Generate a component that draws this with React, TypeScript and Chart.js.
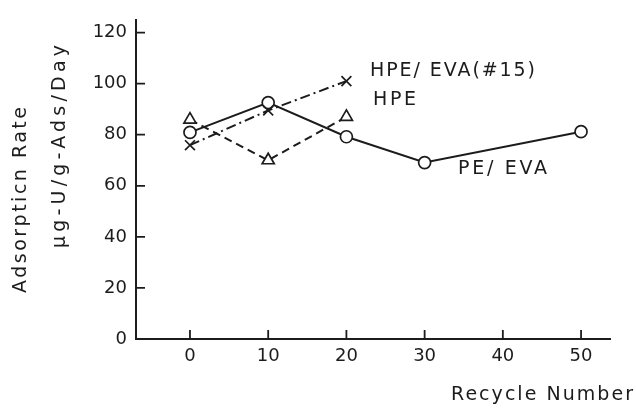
import { useEffect, useRef } from 'react';
import { Chart, registerables } from 'chart.js';

Chart.register(...registerables);

// Axis tick values
const xTicks = [0, 10, 20, 30, 40, 50];
const yTicks = [0, 20, 40, 60, 80, 100, 120];

// PE/EVA adsorbent (circles, solid line)
const peEvaCycles = [0, 10, 20, 30, 50];
const peEvaRate = [80.9, 92.6, 79.2, 69.1, 81.2];

// HPE adsorbent (triangles, dashed line)
const hpeCycles = [0, 10, 20];
const hpeRate = [85.9, 70.0, 87.0];

// HPE/EVA (#15) adsorbent (crosses, dash-dot line)
const hpeEvaCycles = [0, 10, 20];
const hpeEvaRate = [75.9, 89.5, 101.0];

const FONT = "'DejaVu Sans', sans-serif";
const INK = '#1c1c1c';

const toPoints = (xs: number[], ys: number[]) => xs.map((x, i) => ({ x, y: ys[i] }));

// Draw text stretched to a given width by spreading the letters.
function spreadText(ctx: CanvasRenderingContext2D, text: string, x: number, y: number, width: number) {
  (ctx as any).letterSpacing = '0px';
  const w = ctx.measureText(text).width;
  const n = Array.from(text).length;
  const gap = n > 1 ? (width - w) / (n - 1) : 0;
  (ctx as any).letterSpacing = `${gap}px`;
  ctx.fillText(text, x, y);
  (ctx as any).letterSpacing = '0px';
}

const decorations = {
  id: 'decorations',
  afterDraw(chart: Chart) {
    const ctx = chart.ctx;
    const xs = chart.scales.x;
    const ys = chart.scales.y;
    const area = chart.chartArea;
    ctx.save();

    // inward tick marks
    ctx.strokeStyle = INK;
    ctx.lineWidth = 1.8;
    ctx.beginPath();
    yTicks.forEach((v) => {
      const py = ys.getPixelForValue(v);
      ctx.moveTo(area.left, py);
      ctx.lineTo(area.left + 9, py);
    });
    xTicks.forEach((v) => {
      const px = xs.getPixelForValue(v);
      ctx.moveTo(px, area.bottom);
      ctx.lineTo(px, area.bottom - 9);
    });
    ctx.stroke();

    ctx.fillStyle = INK;
    ctx.textAlign = 'left';
    ctx.textBaseline = 'middle';

    // series labels
    ctx.font = `19px ${FONT}`;
    spreadText(ctx, 'HPE/ EVA(#15)', 370, 71, 165);
    spreadText(ctx, 'HPE', 373, 100.5, 43);
    spreadText(ctx, 'PE/ EVA', 458, 169.5, 89);

    // x axis title
    ctx.font = `19px ${FONT}`;
    spreadText(ctx, 'Recycle Number', 451, 395, 182);

    // y axis title, two rotated lines
    ctx.font = `19px ${FONT}`;
    ctx.save();
    ctx.translate(21, 200);
    ctx.rotate(-Math.PI / 2);
    spreadText(ctx, 'Adsorpticn Rate', -93, 0, 186);
    ctx.restore();

    ctx.save();
    ctx.translate(60, 146.5);
    ctx.rotate(-Math.PI / 2);
    spreadText(ctx, 'μg-U/g-Ads/Day', -101.5, 0, 203);
    ctx.restore();

    ctx.restore();
  },
};

export default function App() {
  const canvasRef = useRef<HTMLCanvasElement | null>(null);

  useEffect(() => {
    const canvas = canvasRef.current;
    if (!canvas) return;

    const common = {
      borderColor: INK,
      borderWidth: 2,
      pointBackgroundColor: '#ffffff',
      pointBorderColor: INK,
      pointBorderWidth: 1.7,
      showLine: true,
      fill: false,
      tension: 0,
    };

    const chart = new Chart(canvas, {
      type: 'scatter',
      data: {
        datasets: [
          {
            ...common,
            label: 'HPE/EVA(#15)',
            data: toPoints(hpeEvaCycles, hpeEvaRate),
            borderDash: [10, 4, 2, 4],
            pointStyle: 'crossRot',
            pointRadius: 7,
          },
          {
            ...common,
            label: 'HPE',
            data: toPoints(hpeCycles, hpeRate),
            borderDash: [8, 5],
            pointStyle: 'triangle',
            pointRadius: 7,
          },
          {
            ...common,
            label: 'PE/EVA',
            data: toPoints(peEvaCycles, peEvaRate),
            pointStyle: 'circle',
            pointRadius: 6,
          },
        ],
      },
      options: {
        animation: false,
        responsive: false,
        devicePixelRatio: 1,
        layout: { padding: { top: 10, right: 26, left: 0, bottom: 0 } },
        plugins: {
          legend: { display: false },
          tooltip: { enabled: false },
        },
        scales: {
          x: {
            type: 'linear',
            min: -6.9,
            max: 53.7,
            grid: { display: false, drawTicks: false, tickLength: 0 },
            border: { display: true, color: INK, width: 2 },
            ticks: {
              color: INK,
              font: { family: FONT, size: 18 },
              padding: 7,
            },
            afterBuildTicks: (s: any) => {
              s.ticks = xTicks.map((v) => ({ value: v }));
            },
            afterFit: (s: any) => {
              s.height = 72;
            },
          },
          y: {
            type: 'linear',
            min: 0,
            max: 125,
            grid: { display: false, drawTicks: false, tickLength: 0 },
            border: { display: true, color: INK, width: 2 },
            ticks: {
              color: INK,
              font: { family: FONT, size: 18 },
              padding: 9,
            },
            afterBuildTicks: (s: any) => {
              s.ticks = yTicks.map((v) => ({ value: v }));
            },
            afterFit: (s: any) => {
              s.width = 136;
            },
          },
        },
      },
      plugins: [decorations],
    });

    return () => chart.destroy();
  }, []);

  return (
    <div style={{ position: 'absolute', left: 0, top: 0, width: 636, height: 411, background: '#ffffff' }}>
      <canvas ref={canvasRef} width={636} height={411} />
    </div>
  );
}
